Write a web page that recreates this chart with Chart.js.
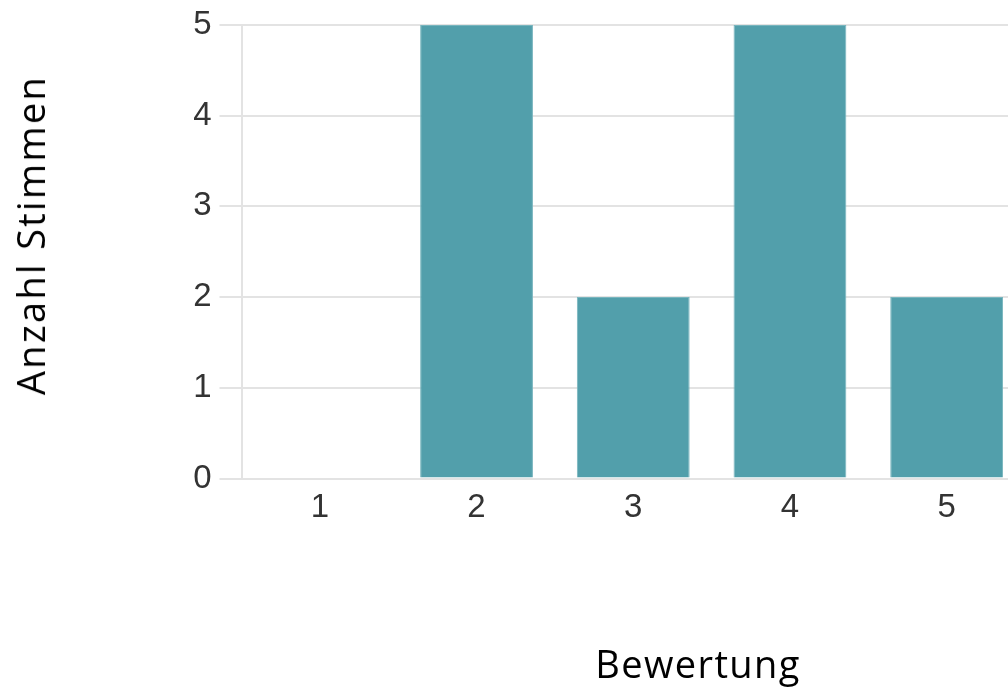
<!DOCTYPE html>
<html>
<head>
<meta charset="utf-8">
<script src="https://cdn.jsdelivr.net/npm/chart.js@4.4.1/dist/chart.umd.min.js"></script>
<style>
  html, body { margin: 0; padding: 0; background: #fff; overflow: hidden; }
  #wrap { position: relative; width: 1008px; height: 692px; overflow: hidden; }
  #chart { position: absolute; left: 0; top: 0; }
  .axis-title { position: absolute; font-family: "Open Sans", Lato, sans-serif; font-size: 38px; color: #000; white-space: nowrap; line-height: 1; }
  #xTitle { left: 698px; top: 663px; letter-spacing: 1.4px; transform: translate(-50%, -50%); }
  #yTitle { left: 30px; top: 235px; letter-spacing: 2.3px; transform: translate(-50%, -50%) rotate(-90deg); }
</style>
</head>
<body>
<div id="wrap">
  <canvas id="chart" width="1025" height="692"></canvas>
  <div class="axis-title" id="xTitle">Bewertung</div>
  <div class="axis-title" id="yTitle">Anzahl Stimmen</div>
</div>
<script>
const categories = ['1', '2', '3', '4', '5'];
const votes = [0, 5, 2, 5, 2];
const yTicks = [0, 1, 2, 3, 4, 5];

const BAR_COLOR = '#529fab';
const GRID_COLOR = '#e3e3e3';
const TICK_COLOR = '#333';

const ctx = document.getElementById('chart');
new Chart(ctx, {
  type: 'bar',
  data: {
    labels: categories,
    datasets: [{
      data: votes,
      backgroundColor: BAR_COLOR,
      borderColor: '#78b5be',
      borderWidth: 1,
      categoryPercentage: 0.72,
      barPercentage: 1
    }]
  },
  options: {
    responsive: false,
    animation: false,
    devicePixelRatio: 1,
    layout: { padding: { top: 25, right: 0, bottom: 0, left: 0 } },
    plugins: { legend: { display: false }, tooltip: { enabled: false } },
    scales: {
      x: {
        grid: { display: false, drawTicks: false },
        border: { display: false },
        ticks: { color: TICK_COLOR, padding: 10, font: { family: 'Liberation Sans, Arial', size: 33 } },
        afterFit: (scale) => { scale.height = 213.5; }
      },
      y: {
        min: 0,
        max: 5,
        afterBuildTicks: (scale) => { scale.ticks = yTicks.map(v => ({ value: v })); },
        grid: { color: GRID_COLOR, lineWidth: 2, tickLength: 22 },
        border: { display: true, color: GRID_COLOR, width: 2 },
        ticks: { color: TICK_COLOR, padding: 8, font: { family: 'Liberation Sans, Arial', size: 33 } },
        afterFit: (scale) => {
          scale.width = 241.5;
          scale.paddingTop = 0;
          scale.paddingBottom = 0;
        }
      }
    }
  }
});
</script>
</body>
</html>
